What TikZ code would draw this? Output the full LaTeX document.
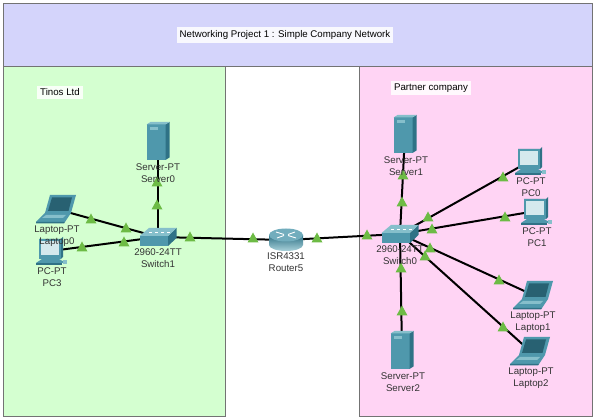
\documentclass[tikz,border=0pt]{standalone}
\usepackage{fontspec}
\setmainfont{Liberation Sans}
\definecolor{tealA}{HTML}{4F98AC}
\definecolor{tealB}{HTML}{2F7286}
\definecolor{tealC}{HTML}{86BFCB}
\definecolor{linkgreen}{HTML}{6DBB45}
\definecolor{zonegreen}{HTML}{D4FFD0}
\definecolor{zonepink}{HTML}{FFD4F4}
\definecolor{zoneblue}{HTML}{D4D4FB}
\tikzset{
  server/.pic={
    \fill[tealA] (-11.5,-16.5) rectangle (7.5,19);
    \fill[tealB] (7.5,-16.5)--(11.5,-19)--(11.5,16.5)--(7.5,19)--cycle;
    \fill[tealC] (-11.5,-16.5)--(-7.5,-19)--(11.5,-19)--(7.5,-16.5)--cycle;
    \fill[tealC] (-8.5,-13.5) rectangle (0,-10.5);
  },
  laptop/.pic={
    \fill[tealA] (-6,-14)--(20,-14)--(15,4)--(-11,4)--cycle;
    \fill[tealB!85!black] (-4,-11.5)--(16,-11.5)--(12.5,2)--(-8,2)--cycle;
    \fill[tealA] (-11,4)--(15,4)--(9,13)--(-20,13)--cycle;
    \fill[tealC] (-10,6)--(10,6)--(7,9)--(-14,9)--cycle;
    \fill[tealB] (-20,13)--(9,13)--(8,14.5)--(-20,14.5)--cycle;
  },
  desktop/.pic={
    \fill[tealB] (-12,-12)--(10,-12)--(12,-14)--(12,6)--(10,8)--(-12,8)--cycle;
    \fill[tealA] (-12,-12) rectangle (10,8);
    \fill[tealC!35] (-10,-10) rectangle (7.5,4);
    \fill[tealA] (-9,8)--(8,8)--(15,12)--(-15,12)--cycle;
    \fill[tealB] (-15,12) rectangle (11,14);
    \fill[tealC] (12,9) rectangle (16,13);
  },
  switchbox/.pic={
    \fill[tealA] (-18.5,-1)--(10,-1)--(10,9)--(-18.5,9)--cycle;
    \fill[tealB] (10,-1)--(18.5,-9)--(18.5,1)--(10,9)--cycle;
    \fill[tealC] (-18.5,-1)--(-9,-9)--(18.5,-9)--(10,-1)--cycle;
    \foreach \p in {-9,-3,3,9} \fill[white] (\p,-5) rectangle ++(2.5,1);
  },
  routerbox/.pic={
    \shade[top color=tealB,bottom color=tealC!70!white]
      (-17,-5) -- (-17,5) arc[start angle=180,end angle=0,x radius=17,y radius=6] -- (17,-5) -- cycle;
    \fill[tealA!80!white] (0,-5) ellipse[x radius=17,y radius=6.5];
    \draw[white,line width=.9pt] (-10,-8)--(-2,-5.5) (10,-2)--(2,-4.5) (-9,-2)--(-2,-4.5) (9,-8)--(2,-5.5);
  }
}
\begin{document}
\begin{tikzpicture}[x=1pt,y=-1pt,
  zone/.style={draw=black!55,line width=1pt},
  link/.style={line width=2pt},
  tag/.style={fill=white,fill opacity=.85,text opacity=1,inner sep=3pt,font=\fontsize{9.7}{12}\selectfont},
  lbl/.style={align=center,inner sep=0pt,text=black!80,font=\fontsize{9.7}{12}\selectfont}]
  \useasboundingbox (0,0) rectangle (595,419);
  \draw[zone,fill=zonegreen] (3.5,67) rectangle (225,416.5);
  \draw[zone,fill=zonepink] (359,67) rectangle (592,416.5);
  \draw[zone,fill=zoneblue] (3.5,3.5) rectangle (592,67);
  \node[tag] (title) at (285,35) {Networking Project 1 : Simple Company Network};
  \node[tag] (tinos) at (60,92.5) {Tinos Ltd};
  \node[tag] (partner) at (431,88) {Partner company};
  % devices
  \coordinate (srv0) at (158,141);
  \coordinate (lap0) at (56,209);
  \coordinate (pc3) at (51,251);
  \coordinate (sw1) at (158,237);
  \coordinate (rt5) at (286,240);
  \coordinate (sw0) at (400,234);
  \coordinate (srv1) at (405,134);
  \coordinate (srv2) at (402,350);
  \coordinate (pc0) at (530,161);
  \coordinate (pc1) at (536,211);
  \coordinate (lap1) at (533,295);
  \coordinate (lap2) at (530,351);
  \foreach \a/\b in {srv0/sw1,lap0/sw1,pc3/sw1,sw1/rt5,rt5/sw0,srv1/sw0,srv2/sw0,pc0/sw0,pc1/sw0,lap1/sw0,lap2/sw0}
    \draw[link] (\a)--(\b);
  \foreach \x/\y in {91/219,126/228,82/247,124/242,157/182,157/205,190/237,253/238,317/238,367/235,
    403/175,402/202,503/177,428/217,505/217,432/229,499/280,430/248,503/327,425/256,402/311,401/268}
    \fill[linkgreen] (\x-5.5,\y+4.5)--(\x+5.5,\y+4.5)--(\x,\y-5.5)--cycle;
  \foreach \n in {srv0,srv1,srv2} \pic at (\n) {server};
  \foreach \n in {lap0,lap1,lap2} \pic at (\n) {laptop};
  \foreach \n in {pc3,pc0,pc1} \pic at (\n) {desktop};
  \foreach \n in {sw0,sw1} \pic at (\n) {switchbox};
  \pic at (rt5) {routerbox};
  \node[lbl] (tsrv0) at (158,173) {Server-PT\\Server0};
  \node[lbl] (tlap0) at (57,236.5) {Laptop-PT\\Laptop0};
  \node[lbl] (tpc3) at (52,277) {PC-PT\\PC3};
  \node[lbl] (tsw1) at (158,258.5) {2960-24TT\\Switch1};
  \node[lbl] (trt5) at (286,262) {ISR4331\\Router5};
  \node[lbl] (tsrv1) at (406,166) {Server-PT\\Server1};
  \node[lbl] (tpc0) at (531,187) {PC-PT\\PC0};
  \node[lbl] (tpc1) at (537,237.5) {PC-PT\\PC1};
  \node[lbl] (tsw0) at (400,255.5) {2960-24TT\\Switch0};
  \node[lbl] (tlap1) at (533,322) {Laptop-PT\\Laptop1};
  \node[lbl] (tlap2) at (531,378) {Laptop-PT\\Laptop2};
  \node[lbl] (tsrv2) at (403,382) {Server-PT\\Server2};
\end{tikzpicture}
\end{document}
